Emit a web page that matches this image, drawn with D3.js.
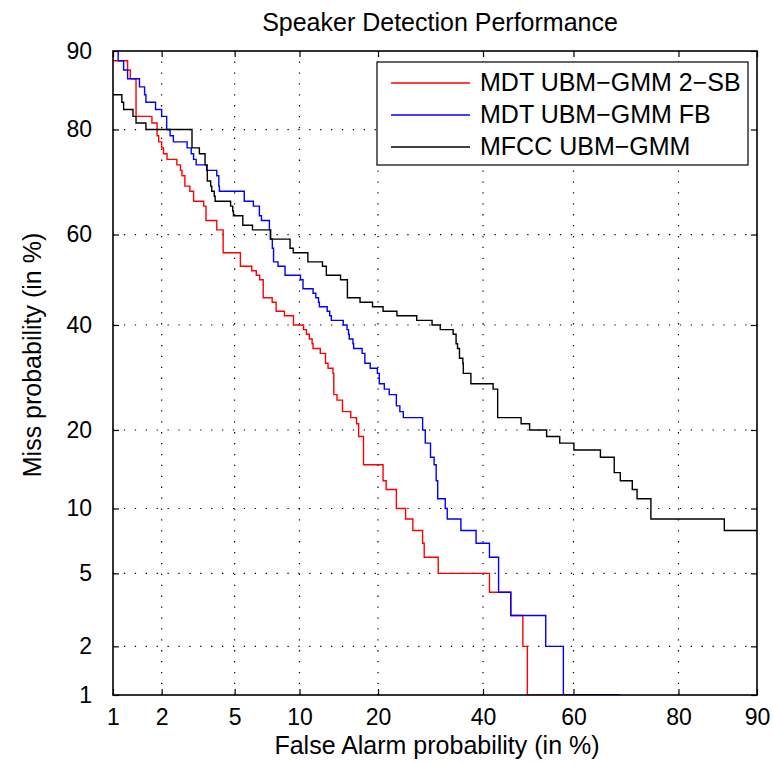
<!DOCTYPE html>
<html><head><meta charset="utf-8">
<script src="https://cdn.jsdelivr.net/npm/d3@7"></script>
<style>
body{margin:0;background:#fff}
text{font-family:"Liberation Sans",Arial,Helvetica,sans-serif;fill:#000}
</style>
</head><body>
<svg id="chart" width="773" height="764"></svg>
<script>
// ---- data (percent) ----
const tickValues = [1, 2, 5, 10, 20, 40, 60, 80, 90];
const gridValues = [2, 5, 10, 20, 40, 60, 80];
const seriesNames = ["MDT UBM\u2212GMM 2\u2212SB", "MDT UBM\u2212GMM FB", "MFCC UBM\u2212GMM"];
const seriesColors = ["#ff0000", "#0000ff", "#000000"];

const redFA   = [1.0,1.24,1.29,1.40,1.75,1.88,1.92,2.0,2.05,2.15,2.45,2.57,2.62,2.72,2.9,3.04,3.45,3.55,4.05,4.37,5.34,6.07,6.38,6.62,6.88,7.57,7.89,8.6,9.42,10.4,10.7,11.0,11.3,11.4,12.2,12.8,13.1,13.7,13.8,14.2,14.9,16.0,16.8,17.1,17.8,20.8,21.3,23.0,24.6,25.9,27.7,28.0,30.7,41.4,46.1,48.8,49.8,69.7];
const redMiss = [89,88,87,82,81,79,78,77,76,75,74,73,72,70,69,67,66,63,61,56,53,52,51,50,46,45,43,42,40,39,38,37,36,35,34,32,31,30,26,25,23,22,21,19,15,13,12,10,9,8,7,6,5,4,3,2,1,1];

const blueFA   = [1.08,1.08,1.17,1.24,1.47,1.58,1.61,1.84,2.0,2.14,2.24,2.34,2.8,2.95,3.04,3.14,3.6,4.05,4.15,4.18,5.58,6.18,6.6,6.75,7.35,7.42,7.58,7.68,8.05,8.65,10.1,10.35,11.4,11.7,12.0,12.1,13.0,13.3,13.5,15.0,15.5,15.7,15.8,16.3,16.4,17.6,18.0,18.8,19.9,20.2,21.0,21.8,23.0,23.6,24.2,27.7,28.2,29.2,29.9,30.3,30.6,32.1,32.5,35.3,38.5,41.4,43.4,46.1,53.9,57.8,69.7];
const blueMiss = [90,89,88,87,86,85,84,83,82,80,79,78,77,76,75,74,73,72,70,69,67,66,64,63,61,59,57,54,53,51,50,48,47,46,45,44,43,42,41,40,39,38,37,36,35,34,32,31,30,28,27,26,24,23,22,20,18,16,15,13,11,10,9,8,7,6,4,3,2,1,1];

const blackFA   = [1.0,1.14,1.17,1.34,1.40,1.61,2.98,3.27,3.51,3.58,3.61,3.76,3.81,3.93,3.97,4.77,4.89,4.93,5.49,6.12,7.45,9.1,9.4,10.85,12.45,12.9,14.65,15.55,17.3,19.15,20.8,23.1,26.6,29.5,31.1,33.7,34.3,34.6,35.0,35.7,35.8,37.4,42.2,43.2,48.4,50.3,54.1,57.0,60.1,65.7,68.5,69.7,72.0,72.9,75.4,86.4,90];
const blackMiss = [85,84,83,82,81,80,77,76,74,73,71,70,69,68,67,66,65,64,62,61,59,57,56,54,53,51,50,46,45,44,43,42,41,40,39,38,36,35,33,32,30,28,27,22,21,20,19,18,17,16,14,13,12,11,9,8,8];

// ---- normal deviate (probit) ----
function probit(p){
  const a=[-3.969683028665376e+01,2.209460984245205e+02,-2.759285104469687e+02,1.383577518672690e+02,-3.066479806614716e+01,2.506628277459239e+00];
  const b=[-5.447609879822406e+01,1.615858368580409e+02,-1.556989798598866e+02,6.680131188771972e+01,-1.328068155288572e+01];
  const c=[-7.784894002430293e-03,-3.223964580411365e-01,-2.400758277161838e+00,-2.549732539343734e+00,4.374664141464968e+00,2.938163982698783e+00];
  const d=[7.784695709041462e-03,3.224671290700398e-01,2.445134137142996e+00,3.754408661907416e+00];
  const pl=0.02425, ph=1-pl; let q,r;
  if(p<pl){q=Math.sqrt(-2*Math.log(p));return (((((c[0]*q+c[1])*q+c[2])*q+c[3])*q+c[4])*q+c[5])/((((d[0]*q+d[1])*q+d[2])*q+d[3])*q+1);}
  if(p<=ph){q=p-0.5;r=q*q;return (((((a[0]*r+a[1])*r+a[2])*r+a[3])*r+a[4])*r+a[5])*q/(((((b[0]*r+b[1])*r+b[2])*r+b[3])*r+b[4])*r+1);}
  q=Math.sqrt(-2*Math.log(1-p));return -(((((c[0]*q+c[1])*q+c[2])*q+c[3])*q+c[4])*q+c[5])/((((d[0]*q+d[1])*q+d[2])*q+d[3])*q+1);
}
const dev = v => probit(v/100);

const L=113, R=757, T=51, B=695;
const svg = d3.select("#chart");
const x = d3.scaleLinear().domain([dev(1), dev(90)]).range([L, R]);
const y = d3.scaleLinear().domain([dev(1), dev(90)]).range([B, T]);

// grid
const grid = svg.append("g").attr("stroke","#000").attr("stroke-width",1.2).attr("stroke-dasharray","1.3,9.6");
grid.selectAll(".gx").data(gridValues).join("line")
  .attr("x1",d=>x(dev(d))).attr("x2",d=>x(dev(d))).attr("y1",B).attr("y2",T);
grid.selectAll(".gy").data(gridValues).join("line")
  .attr("y1",d=>y(dev(d))).attr("y2",d=>y(dev(d))).attr("x1",L).attr("x2",R);

// axes
const tv = tickValues.map(dev);
const fmt = (d,i) => tickValues[i];
const ax = svg.append("g").attr("transform",`translate(0,${B})`)
  .call(d3.axisBottom(x).tickValues(tv).tickFormat(fmt).tickSizeInner(-6).tickSizeOuter(0).tickPadding(14));
const ay = svg.append("g").attr("transform",`translate(${L},0)`)
  .call(d3.axisLeft(y).tickValues(tv).tickFormat(fmt).tickSizeInner(-6).tickSizeOuter(0).tickPadding(21));
const at = svg.append("g").attr("transform",`translate(0,${T})`)
  .call(d3.axisTop(x).tickValues(tv).tickFormat("").tickSizeInner(-6).tickSizeOuter(0));
const ar = svg.append("g").attr("transform",`translate(${R},0)`)
  .call(d3.axisRight(y).tickValues(tv).tickFormat("").tickSizeInner(-6).tickSizeOuter(0));
[ax,ay,at,ar].forEach(g=>{
  g.select(".domain").remove();
  g.selectAll("line").attr("stroke","#000").attr("stroke-width",1.2);
  g.selectAll("text").attr("font-size",23).attr("font-family",'"Liberation Sans",Arial,sans-serif');
});

// curves
svg.append("clipPath").attr("id","clip").append("rect")
  .attr("x",L).attr("y",T).attr("width",R-L).attr("height",B-T);
const line = d3.line().x(d=>x(dev(d[0]))).y(d=>y(dev(d[1]))).curve(d3.curveStepAfter);
const series = [
  d3.zip(redFA, redMiss),
  d3.zip(blueFA, blueMiss),
  d3.zip(blackFA, blackMiss)
];
const cg = svg.append("g").attr("clip-path","url(#clip)");
series.forEach((s,i)=>{
  cg.append("path").attr("d",line(s)).attr("fill","none")
    .attr("stroke",seriesColors[i]).attr("stroke-width",1.4);
});

// frame
svg.append("rect").attr("x",L).attr("y",T).attr("width",R-L).attr("height",B-T)
  .attr("fill","none").attr("stroke","#000").attr("stroke-width",1.6);

// legend
const lg = svg.append("g");
lg.append("rect").attr("x",377).attr("y",62).attr("width",371).attr("height",103)
  .attr("fill","#fff").attr("stroke","#000").attr("stroke-width",1.2);
seriesNames.forEach((n,i)=>{
  const yy = 83 + i*32;
  lg.append("line").attr("x1",391).attr("x2",470).attr("y1",yy).attr("y2",yy)
    .attr("stroke",seriesColors[i]).attr("stroke-width",1.4);
  lg.append("text").attr("x",480).attr("y",yy+8).attr("font-size",25).text(n);
});

// titles
svg.append("text").attr("x",440).attr("y",31).attr("text-anchor","middle").attr("font-size",25)
  .text("Speaker Detection Performance");
svg.append("text").attr("x",437).attr("y",754).attr("text-anchor","middle").attr("font-size",25)
  .text("False Alarm probability (in %)");
svg.append("text").attr("transform","translate(41,355) rotate(-90)").attr("text-anchor","middle").attr("font-size",25)
  .text("Miss probability (in %)");
</script>
</body></html>
